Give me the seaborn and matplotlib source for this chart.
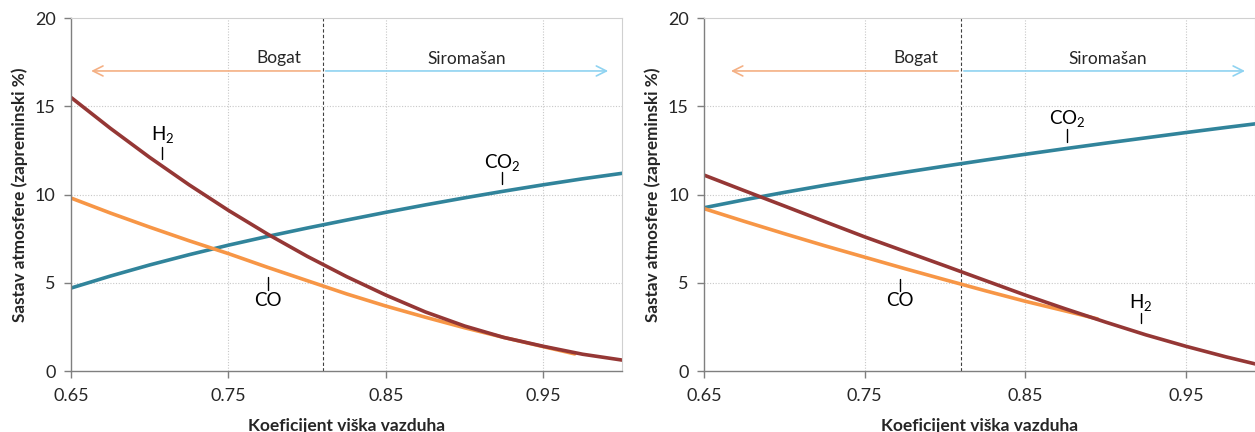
import numpy as np
import pandas as pd
import matplotlib
matplotlib.use("Agg")
import matplotlib.pyplot as plt
import seaborn as sns

sns.set_style("white")
plt.rcParams['font.family'] = ['Lato', 'DejaVu Sans']
plt.rcParams['mathtext.default'] = 'regular'

# podaci - lijevi dijagram
x_left = [0.65, 0.675, 0.70, 0.725, 0.75, 0.775, 0.80, 0.825, 0.85, 0.875, 0.90, 0.925, 0.95, 0.975, 1.0]
h2_left = [15.5, 13.75, 12.1, 10.55, 9.1, 7.75, 6.5, 5.35, 4.3, 3.35, 2.55, 1.9, 1.4, 0.95, 0.62]
co2_left = [4.7, 5.38, 6.01, 6.59, 7.13, 7.63, 8.1, 8.55, 8.99, 9.41, 9.81, 10.19, 10.55, 10.89, 11.2]
x_co_left = [0.65, 0.675, 0.70, 0.725, 0.75, 0.775, 0.80, 0.825, 0.85, 0.875, 0.90, 0.925, 0.95, 0.97]
co_left = [9.8, 8.95, 8.15, 7.38, 6.65, 5.87, 5.12, 4.37, 3.68, 3.05, 2.45, 1.9, 1.38, 0.97]

# podaci - desni dijagram
x_right = [0.65, 0.675, 0.70, 0.725, 0.75, 0.775, 0.80, 0.825, 0.85, 0.875, 0.90, 0.925, 0.95, 0.975, 1.0]
h2_right = [11.1, 10.22, 9.35, 8.47, 7.6, 6.78, 5.96, 5.13, 4.3, 3.52, 2.77, 2.05, 1.4, 0.8, 0.25]
co2_right = [9.25, 9.7, 10.12, 10.52, 10.9, 11.26, 11.61, 11.95, 12.28, 12.6, 12.91, 13.21, 13.51, 13.8, 14.08]
x_co_right = [0.65, 0.675, 0.70, 0.725, 0.75, 0.775, 0.80, 0.825, 0.85, 0.875, 0.895]
co_right = [9.2, 8.48, 7.78, 7.1, 6.45, 5.8, 5.17, 4.55, 3.95, 3.4, 2.95]

granica = 0.81
x_ticks = [0.65, 0.75, 0.85, 0.95]
y_ticks = [0, 5, 10, 15, 20]

c_h2 = '#953735'
c_co = '#f79646'
c_co2 = '#31849b'

fig = plt.figure(figsize=(12.55, 4.32), dpi=100)
ax1 = fig.add_axes([0.0566, 0.1412, 0.439, 0.8171])
ax2 = fig.add_axes([0.561, 0.1412, 0.439, 0.8171])

panels = [
    (ax1, x_left, h2_left, co2_left, x_co_left, co_left, 1.0, 0.661, 0.993,
     [('H$_2$', 0.708, 13.4, 12.0, 12.7), ('CO$_2$', 0.924, 11.8, 10.6, 11.3), ('CO', 0.775, 4.0, 4.6, 5.3)]),
    (ax2, x_right, h2_right, co2_right, x_co_right, co_right, 0.993, 0.665, 0.9885,
     [('CO$_2$', 0.876, 14.3, 13.0, 13.7), ('CO', 0.772, 4.0, 4.55, 5.2), ('H$_2$', 0.922, 3.9, 2.7, 3.3)]),
]

for ax, xs, h2, co2, xco, co, xmax, a_left, a_right, labels in panels:
    sns.lineplot(x=xs, y=co2, ax=ax, color=c_co2, lw=2.6)
    sns.lineplot(x=xco, y=co, ax=ax, color=c_co, lw=2.6)
    sns.lineplot(x=xs, y=h2, ax=ax, color=c_h2, lw=2.6)

    ax.set_xlim(0.65, xmax)
    ax.set_ylim(0, 20)
    ax.set_xticks(x_ticks)
    ax.set_xticklabels([f'{t:.2f}' for t in x_ticks])
    ax.set_yticks(y_ticks)
    for t in [0.75, 0.85, 0.95]:
        ax.axvline(t, color='#c8c8c8', lw=0.8, ls=(0, (1, 1.5)), zorder=0)
    for t in [5, 10, 15]:
        ax.axhline(t, color='#c8c8c8', lw=0.8, ls=(0, (1, 1.5)), zorder=0)

    for s in ['top', 'right']:
        ax.spines[s].set_color('#d0d0d0')
        ax.spines[s].set_linewidth(0.8)
    for s in ['left', 'bottom']:
        ax.spines[s].set_color('#7f7f7f')
        ax.spines[s].set_linewidth(1.0)
    ax.tick_params(axis='both', direction='out', length=5, width=1, color='#7f7f7f',
                   labelsize=13, labelcolor='#262626', bottom=True, left=True)
    ax.tick_params(axis='x', pad=7)
    ax.tick_params(axis='y', pad=6)

    ax.axvline(granica, color='#404040', lw=0.8, ls=(0, (3, 2)), zorder=1)

    ax.annotate('', xy=(a_left, 17), xytext=(granica, 17),
                arrowprops=dict(arrowstyle='->', color='#f4b084', lw=1.2, mutation_scale=18))
    ax.annotate('', xy=(a_right, 17), xytext=(granica, 17),
                arrowprops=dict(arrowstyle='->', color='#8fd3f1', lw=1.2, mutation_scale=18))
    ax.text(0.782, 17.3, 'Bogat', ha='center', va='bottom', fontsize=12.5, color='#262626')
    ax.text(0.9015, 17.25, 'Siromašan', ha='center', va='bottom', fontsize=12.5, color='#262626')

    for name, lx, ty, t0, t1 in labels:
        ax.plot([lx, lx], [t0, t1], color='black', lw=1.0)
        ax.text(lx, ty, name, ha='center', va='center', fontsize=13.5, color='black')

    ax.set_xlabel('Koeficijent viška vazduha', fontsize=12.5, fontweight='bold', labelpad=10)
    ax.set_ylabel('Sastav atmosfere (zapreminski %)', fontsize=12.3, fontweight='bold', labelpad=5)

fig.savefig('out.png', dpi=100)
plt.close(fig)
